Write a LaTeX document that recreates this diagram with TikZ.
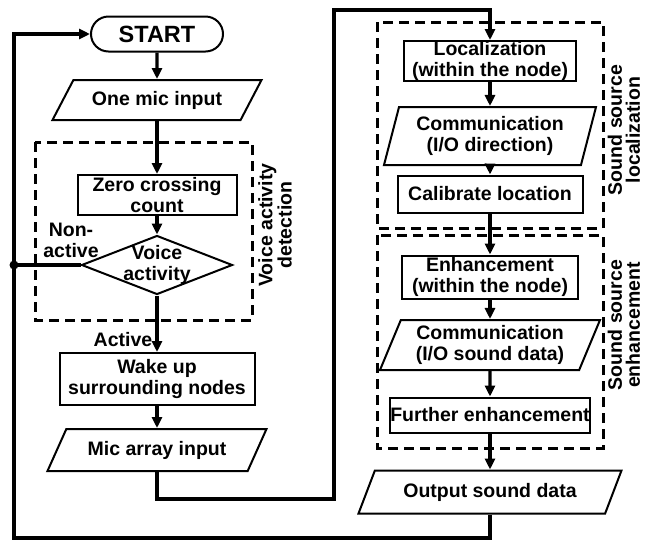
\documentclass[tikz,border=0pt]{standalone}
\usepackage{fontspec}
\setmainfont{Liberation Sans}
\usetikzlibrary{shapes.geometric,shapes.misc,arrows.meta}

\begin{document}
\begin{tikzpicture}[
		x=1pt,y=-1pt,
		every node/.style={align=center,inner sep=0pt,font=\fontsize{19.5}{21}\selectfont\bfseries},
		term/.style={draw,line width=2pt,rounded rectangle,minimum width=132pt,minimum height=35pt,font=\fontsize{23.5}{25}\selectfont\bfseries},
		box/.style={draw,line width=2pt,rectangle},
		io/.style 2 args={draw,line width=2pt,trapezium,trapezium stretches body,trapezium left angle=#1,trapezium right angle=#2},
		test/.style={draw,line width=2pt,diamond,aspect=2.56,inner sep=-4pt,minimum width=151pt,minimum height=59pt},
		dot/.style={circle,fill,minimum size=9pt},
		grp/.style={draw,line width=3pt,dash pattern=on 10pt off 6pt},
		side/.style={rotate=90,font=\fontsize{19.5}{18}\selectfont\bfseries},
		line/.style={line width=3.2pt},
		arr/.style={line width=3.2pt,-{Triangle[length=11pt,width=10pt]}}
		]
		\useasboundingbox (0,0) rectangle (646,542);
		\draw[grp] (35,142) rectangle (252,320);
		\draw[grp] (377,22) rectangle (603,228);
		\draw[grp] (377,235) rectangle (603,448);
		\node[term] (start) at (157,34) {START};
		\node[io={41}{139},minimum width=209pt,minimum height=40pt] (in1) at (157,100) {One mic input};
		\node[box,minimum width=159pt,minimum height=40pt] (zcc) at (157,195) {Zero crossing\\count};
		\node[test] (act) at (157,265) {Voice\\activity};
		\node[box,minimum width=195pt,minimum height=52pt] (wake) at (157,379) {Wake up\\surrounding nodes};
		\node[io={44}{136},minimum width=219pt,minimum height=42pt] (mic) at (157,450) {Mic array input};
		\node[box,minimum width=172pt,minimum height=40pt] (loc) at (490,61) {Localization\\(within the node)};
		\node[io={69}{111},minimum width=212pt,minimum height=58pt] (com1) at (490,136) {Communication\\(I/O direction)};
		\node[box,minimum width=185pt,minimum height=37pt] (cal) at (490,194) {Calibrate location};
		\node[box,minimum width=176pt,minimum height=43pt] (enh) at (490,277) {Enhancement\\(within the node)};
		\node[io={62}{118},minimum width=220pt,minimum height=50pt] (com2) at (490,345) {Communication\\(I/O sound data)};
		\node[box,minimum width=196pt,minimum height=35pt] (fur) at (490,415) {Further enhancement};
		\node[io={48}{132},minimum width=263pt,minimum height=43pt] (out) at (490,492) {Output sound data};
		\node (nonact) at (71,240) {Non-\\active};
		\node (actlbl) at (123,340) {Active};
		\node[side] (vadlbl) at (275,225) {Voice activity\\detection};
		\node[side] (ssllbl) at (624,130) {Sound source\\localization};
		\node[side] (sselbl) at (624,325) {Sound source\\enhancement};
		\node[dot] (jn) at (14,265) {};
		\coordinate (c1) at (334,499);
		\coordinate (c2) at (334,10);
		\coordinate (c3) at (14,538);
		\draw[arr] (start) -- (in1);
		\draw[arr] (in1) -- (zcc);
		\draw[arr] (zcc) -- (act);
		\draw[arr] (act) -- (wake);
		\draw[arr] (wake) -- (mic);
		\draw[line] (act.west) -- (jn.center);
		\draw[arr] (mic.south) |- (c1) -- (c2) -| (loc.north);
		\draw[arr] (loc) -- (com1);
		\draw[arr] (com1) -- (cal);
		\draw[arr] (cal) -- (enh);
		\draw[arr] (enh) -- (com2);
		\draw[arr] (com2) -- (fur);
		\draw[arr] (fur) -- (out);
		\draw[arr] (out.south) |- (c3) |- (start.west);
\end{tikzpicture}
\end{document}
